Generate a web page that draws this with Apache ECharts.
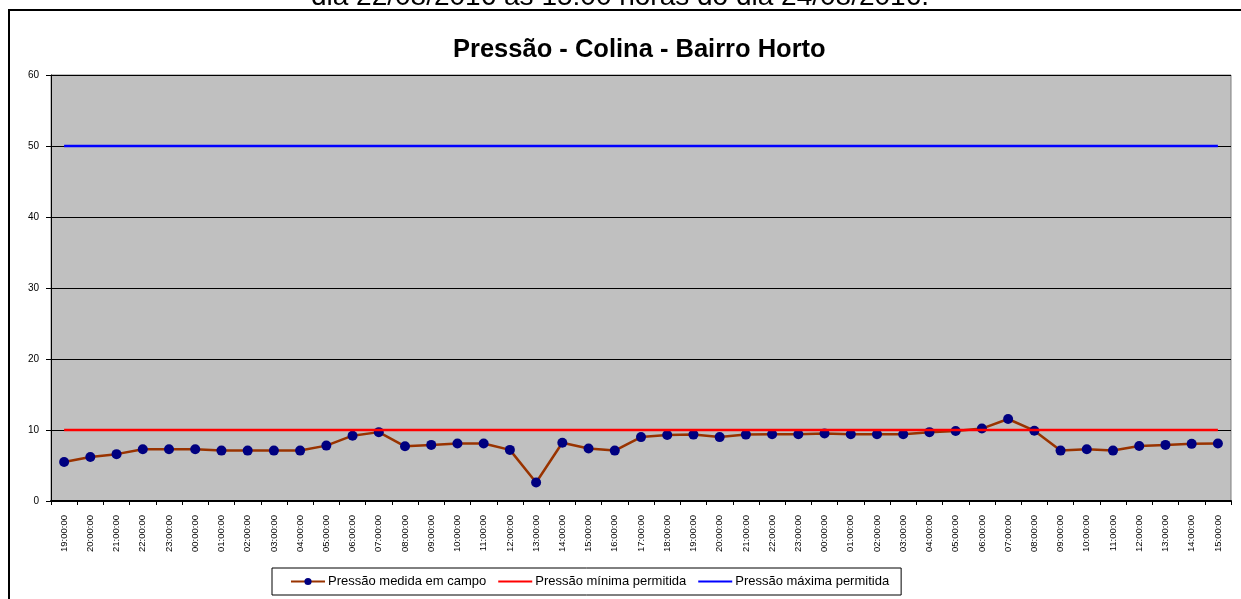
<!DOCTYPE html>
<html>
<head>
<meta charset="utf-8">
<script src="https://cdn.jsdelivr.net/npm/echarts@6/dist/echarts.min.js"></script>
<style>
  html, body { margin: 0; padding: 0; background: #fff; }
  #main { width: 1241px; height: 599px; }
</style>
</head>
<body>
<div id="main"></div>
<script>
// horas (22/08 19:00 ate 24/08 15:00)
var horas = [
  '19:00:00','20:00:00','21:00:00','22:00:00','23:00:00',
  '00:00:00','01:00:00','02:00:00','03:00:00','04:00:00','05:00:00','06:00:00',
  '07:00:00','08:00:00','09:00:00','10:00:00','11:00:00','12:00:00','13:00:00',
  '14:00:00','15:00:00','16:00:00','17:00:00','18:00:00','19:00:00','20:00:00',
  '21:00:00','22:00:00','23:00:00',
  '00:00:00','01:00:00','02:00:00','03:00:00','04:00:00','05:00:00','06:00:00',
  '07:00:00','08:00:00','09:00:00','10:00:00','11:00:00','12:00:00','13:00:00',
  '14:00:00','15:00:00'
];

// pressao medida em campo
var medida = [
  5.5, 6.2, 6.6, 7.3, 7.3,
  7.3, 7.1, 7.1, 7.1, 7.1, 7.8, 9.2,
  9.7, 7.7, 7.9, 8.1, 8.1, 7.2, 2.6,
  8.2, 7.4, 7.1, 9.0, 9.3, 9.35, 9.0,
  9.35, 9.4, 9.4,
  9.5, 9.4, 9.4, 9.4, 9.7, 9.85, 10.2,
  11.55, 9.9, 7.1, 7.3, 7.1, 7.75, 7.9,
  8.05, 8.1
];

var pMin = 10;
var pMax = 50;
var minima = horas.map(function () { return pMin; });
var maxima = horas.map(function () { return pMax; });

var yTicks = { min: 0, max: 60, interval: 10 };

var fonte = 'Arial, "Liberation Sans", sans-serif';

var chart = echarts.init(document.getElementById('main'));

var option = {
  backgroundColor: '#ffffff',
  animation: false,
  textStyle: { fontFamily: fonte },
  title: {
    text: 'Pressão - Colina - Bairro Horto',
    left: 448,
    top: 32,
    textStyle: { fontSize: 25.5, fontWeight: 'bold', color: '#000', fontFamily: fonte }
  },
  graphic: [
    {
      type: 'text',
      x: 620,
      y: -3,
      style: {
        text: 'dia 22/08/2016 às 15:00 horas do dia 24/08/2016.',
        fill: '#000',
        font: '28px ' + fonte,
        textAlign: 'center',
        textVerticalAlign: 'middle'
      }
    },
    {
      type: 'rect',
      shape: { x: 9, y: 10, width: 1300, height: 700 },
      style: { fill: 'none', stroke: '#000', lineWidth: 2 },
      z: -1
    }
  ],
  legend: {
    left: 272,
    top: 568,
    padding: [7, 12, 7, 18],
    itemGap: 11,
    itemWidth: 34,
    itemHeight: 9,
    borderColor: '#000',
    borderWidth: 1,
    textStyle: { fontSize: 13, color: '#000', padding: [0, 0, 0, -2] },
    data: ['Pressão medida em campo', 'Pressão mínima permitida', 'Pressão máxima permitida']
  },
  grid: {
    left: 51,
    right: 10,
    top: 75,
    bottom: 98,
    show: true,
    backgroundColor: '#c0c0c0',
    borderColor: '#808080',
    borderWidth: 1
  },
  xAxis: {
    type: 'category',
    data: horas,
    boundaryGap: true,
    axisLine: { lineStyle: { color: '#000', width: 2 } },
    axisTick: { show: true, length: 4, lineStyle: { color: '#000' } },
    axisLabel: {
      rotate: 90,
      interval: 0,
      fontSize: 9.5,
      color: '#000',
      margin: 14
    },
    splitLine: { show: false }
  },
  yAxis: {
    type: 'value',
    min: yTicks.min,
    max: yTicks.max,
    interval: yTicks.interval,
    axisLine: { show: true, lineStyle: { color: '#000', width: 1 } },
    axisTick: { show: true, length: 5, lineStyle: { color: '#000' } },
    axisLabel: { fontSize: 10, color: '#000', margin: 12 },
    splitLine: { show: true, lineStyle: { color: '#000', width: 1 } }
  },
  series: [
    {
      name: 'Pressão medida em campo',
      type: 'line',
      data: medida,
      symbol: 'circle',
      symbolSize: 10,
      itemStyle: { color: '#000080', borderWidth: 0 },
      lineStyle: { color: '#993300', width: 2.5 },
      z: 3
    },
    {
      name: 'Pressão mínima permitida',
      type: 'line',
      data: minima,
      symbol: 'none',
      itemStyle: { color: 'rgba(0,0,0,0)' },
      lineStyle: { color: '#ff0000', width: 2.5 },
      z: 4
    },
    {
      name: 'Pressão máxima permitida',
      type: 'line',
      data: maxima,
      symbol: 'none',
      itemStyle: { color: 'rgba(0,0,0,0)' },
      lineStyle: { color: '#0000ff', width: 2.5 },
      z: 4
    }
  ]
};

chart.setOption(option);
</script>
</body>
</html>
